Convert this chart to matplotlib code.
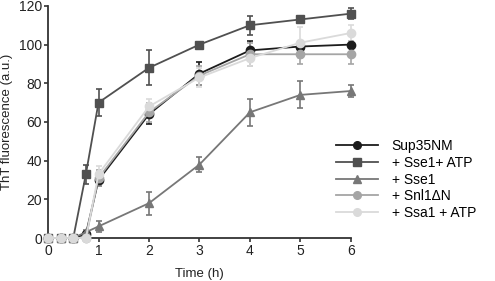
import matplotlib.pyplot as plt
from matplotlib.lines import Line2D

plt.rcParams['font.family'] = ['Liberation Sans', 'DejaVu Sans']

time = [0, 0.25, 0.5, 0.75, 1, 2, 3, 4, 5, 6]

sup35 = [0, 0, 0, 2, 30, 64, 85, 97, 99, 100]
sup35_err = [0, 0, 0, 1, 3, 5, 6, 5, 3, 2]
sse1_atp = [0, 0, 0, 33, 70, 88, 100, 110, 113, 116]
sse1_atp_err = [0, 0, 0, 5, 7, 9, 1, 5, 2, 3]
sse1 = [0, 0, 0, 3, 6, 18, 38, 65, 74, 76]
sse1_err = [0, 0, 0, 1, 3, 6, 4, 7, 7, 3]
snl1 = [0, 0, 0, 0, 31, 65, 84, 95, 95, 95]
snl1_err = [0, 0, 0, 0, 4, 5, 5, 6, 5, 5]
ssa1_atp = [0, 0, 0, 0, 33, 68, 83, 93, 101, 106]
ssa1_atp_err = [0, 0, 0, 0, 4, 4, 5, 4, 8, 4]

series = [
    ('Sup35NM', sup35, sup35_err, '#1c1c1c', 'o'),
    ('+ Sse1+ ATP', sse1_atp, sse1_atp_err, '#505050', 's'),
    ('+ Sse1', sse1, sse1_err, '#777777', '^'),
    ('+ Snl1\u0394N', snl1, snl1_err, '#a5a5a5', 'o'),
    ('+ Ssa1 + ATP', ssa1_atp, ssa1_atp_err, '#dadada', 'o'),
]

fig = plt.figure(figsize=(4.95, 2.81), dpi=100)
ax = fig.add_axes([0.097, 0.153, 0.612, 0.826])

handles = []
for label, y, err, color, marker in series:
    ax.errorbar(time, y, yerr=err, color=color, marker=marker, markersize=6,
                linewidth=1.3, elinewidth=1.2, capsize=2.5, capthick=1.2,
                clip_on=False, zorder=3)
    handles.append(Line2D([], [], color=color, marker=marker, markersize=5.5,
                          linewidth=1.3, label=label))

ax.set_xlim(0, 6)
ax.set_ylim(0, 120)
ax.set_xticks(range(0, 7))
ax.set_yticks(range(0, 121, 20))
for s in ['top', 'right']:
    ax.spines[s].set_visible(False)
for s in ['left', 'bottom']:
    ax.spines[s].set_linewidth(1.3)
    ax.spines[s].set_color('#333333')
ax.tick_params(direction='out', length=3, width=1.2, color='#333333', pad=1.5,
               labelsize=10, labelcolor='#222222')
ax.set_xlabel('Time (h)', fontsize=9.5, color='#222222', labelpad=7)
ax.set_ylabel('ThT fluorescence (a.u.)', fontsize=9.5, color='#222222', labelpad=4)

fig.legend(handles=handles, loc='upper left', bbox_to_anchor=(0.665, 0.53),
           frameon=False, fontsize=10, handlelength=3.0, handletextpad=1.0,
           labelspacing=0.2, borderpad=0)

fig.savefig('out.png', dpi=100)
